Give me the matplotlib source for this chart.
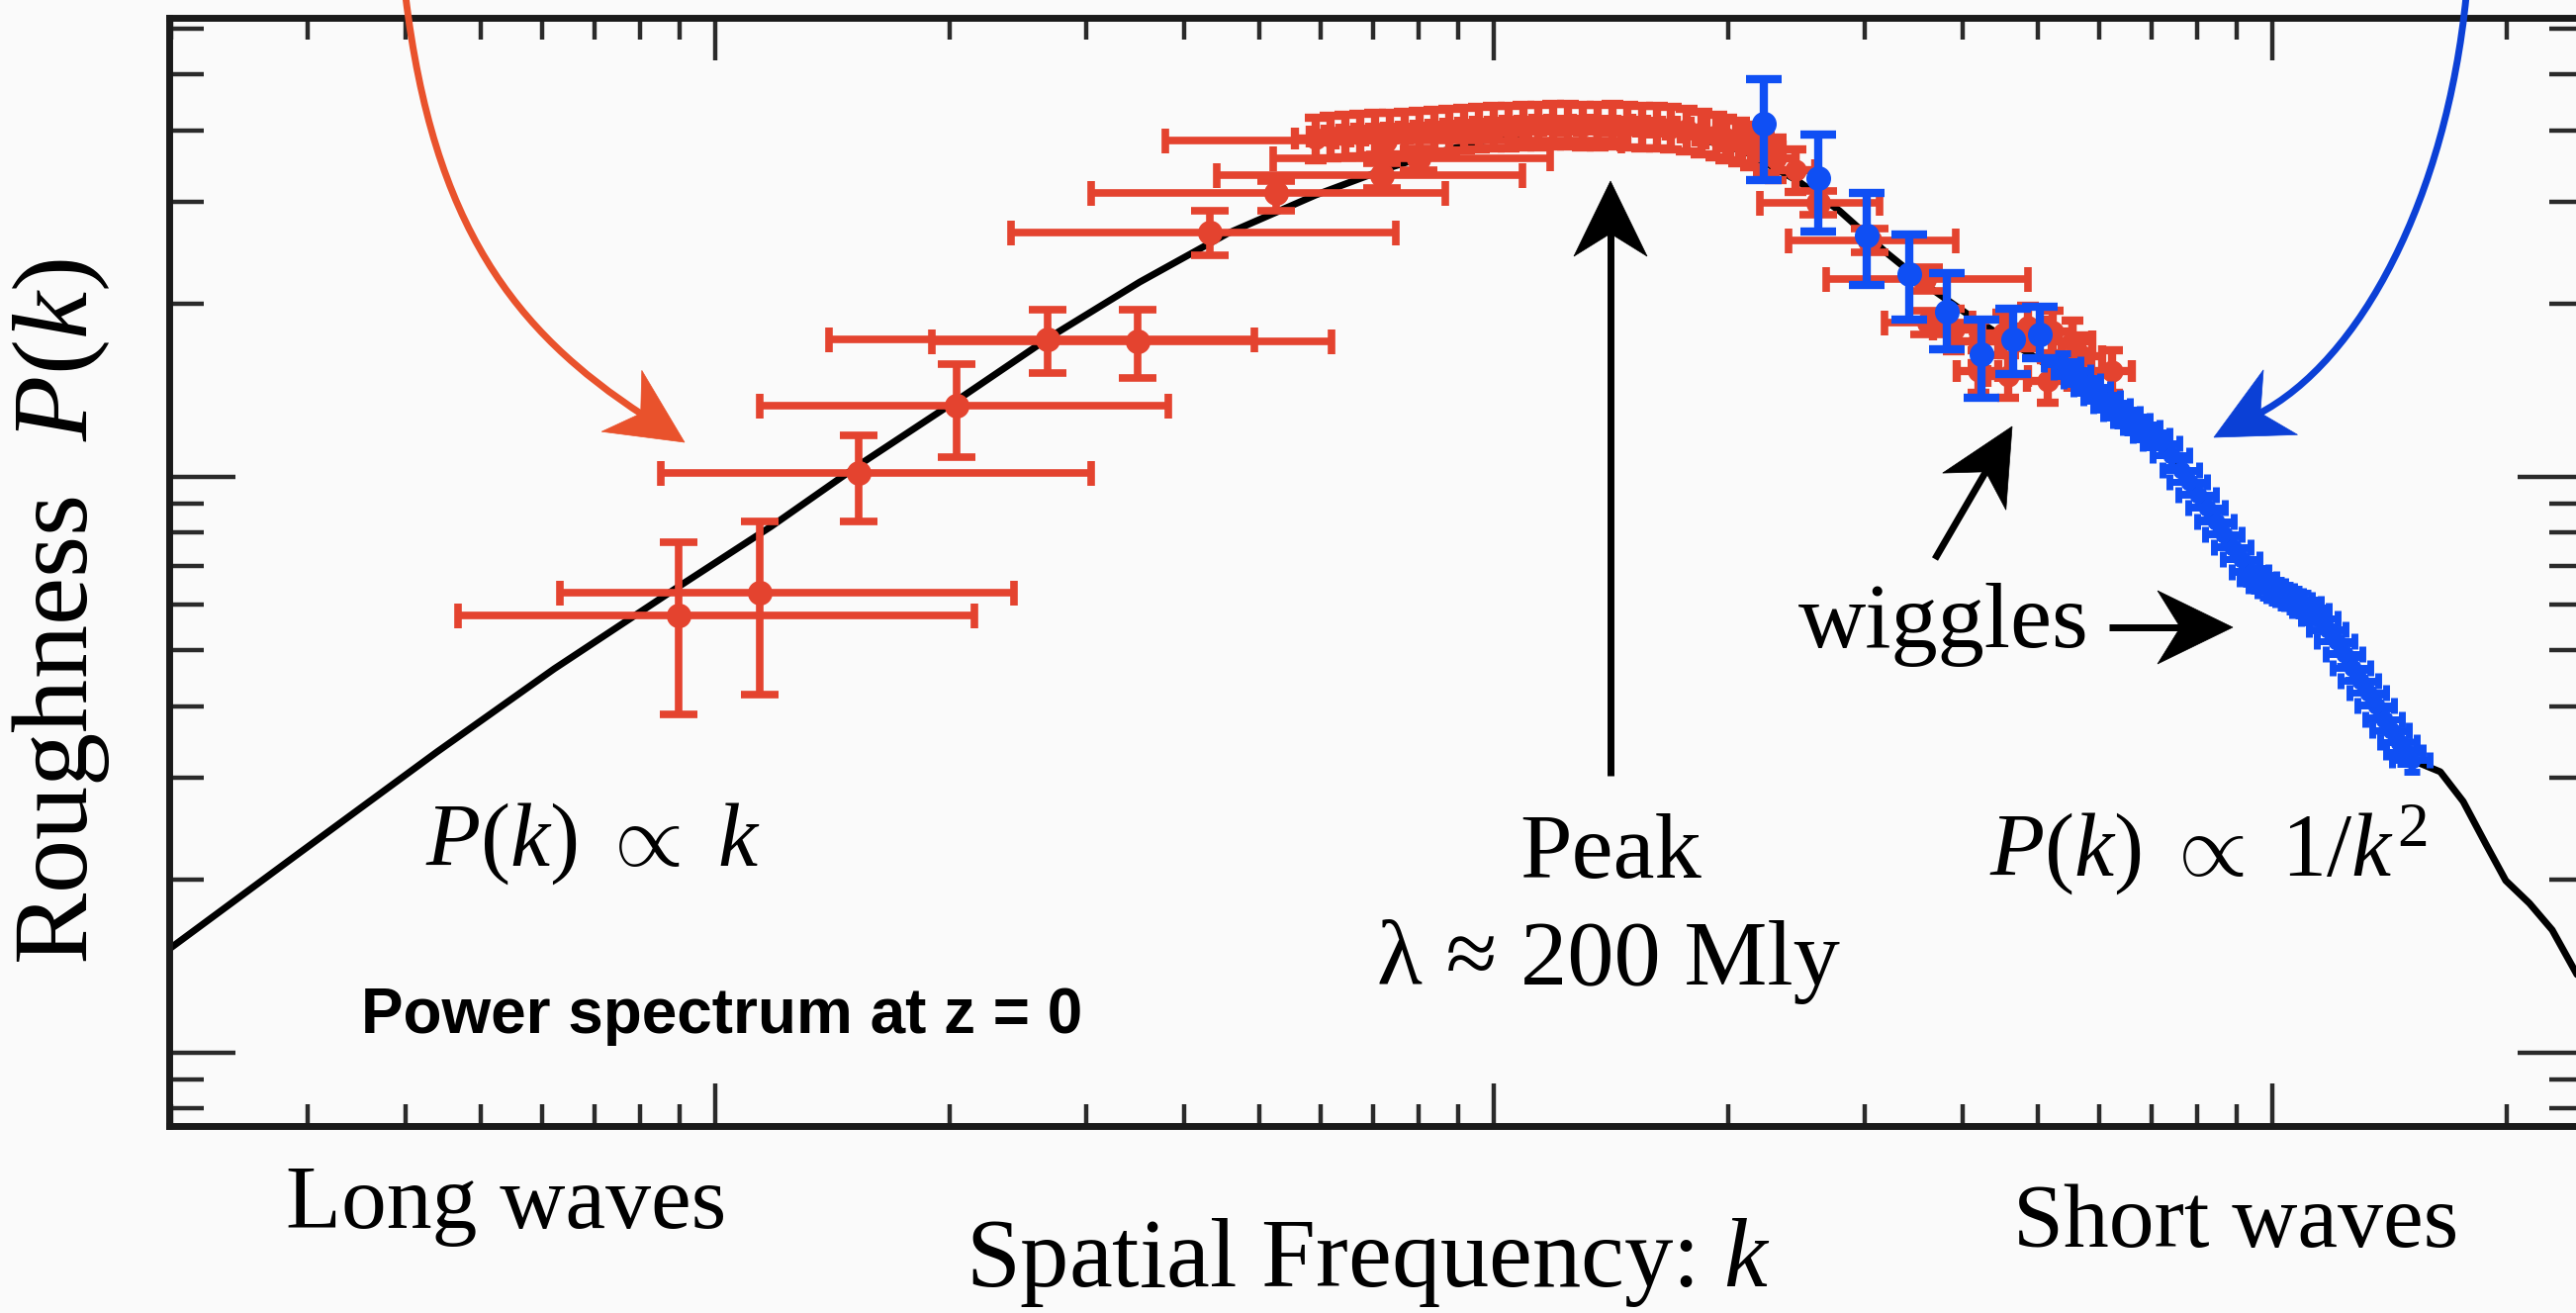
import numpy as np
import matplotlib.pyplot as plt
from matplotlib.path import Path
from matplotlib.patches import PathPatch, Polygon
from matplotlib.lines import Line2D
from matplotlib.ticker import LogLocator, NullFormatter

# ---- theory curve (k, P(k)) ----
curve_k = [1.99e-4, 2.90e-4, 4.39e-4, 6.21e-4, 8.97e-4, 1.18e-3, 1.53e-3, 2.04e-3,
           2.70e-3, 3.51e-3, 4.55e-3, 5.91e-3, 7.25e-3, 8.39e-3, 9.71e-3, 1.124e-2,
           1.30e-2, 1.51e-2, 1.74e-2, 2.10e-2, 2.46e-2, 2.78e-2, 3.19e-2, 3.62e-2,
           4.07e-2, 4.71e-2, 5.46e-2, 6.14e-2, 6.80e-2, 7.57e-2, 8.46e-2, 9.38e-2,
           0.1039, 0.1151, 0.1267, 0.1392, 0.1510, 0.1644, 0.1759, 0.1881, 0.1995,
           0.2140, 0.2289, 0.2455, 0.2535]
curve_P = [1515, 2206, 3329, 4642, 6447, 8204, 10490, 13560, 17540, 21800, 26470,
           30880, 34220, 36480, 38390, 39790, 40570, 40570, 39480, 36760, 32640,
           28990, 24550, 21380, 19130, 16860, 14850, 13510, 12380, 10490, 8371,
           6840, 6220, 5679, 4659, 3793, 3226, 3076, 2732, 2304, 1991, 1818, 1634,
           1378, 1273]

# ---- red points with wide k bins ----
red_k    = [8.97e-4, 1.14e-3, 1.53e-3, 2.04e-3, 2.67e-3, 3.49e-3, 4.32e-3, 5.25e-3,
            7.18e-3, 8.01e-3, 7.25e-3, 2.61e-2, 3.04e-2, 3.57e-2, 3.62e-2]
red_k_lo = [4.67e-4, 6.32e-4, 8.51e-4, 1.14e-3, 1.40e-3, 1.90e-3, 2.40e-3, 3.04e-3,
            4.41e-3, 5.21e-3, 3.79e-3, 2.20e-2, 2.39e-2, 2.67e-2, 3.18e-2]
red_k_hi = [2.15e-3, 2.42e-3, 3.04e-3, 3.82e-3, 4.93e-3, 6.19e-3, 7.48e-3, 8.66e-3,
            1.09e-2, 1.18e-2, 1.46e-2, 3.13e-2, 3.92e-2, 4.85e-2, 4.12e-2]
red_P    = [5740, 6295, 10160, 13300, 17340, 17190, 26560, 31120, 33420, 35750, 38390,
            29920, 25740, 22060, 18540]
red_P_lo = [3870, 4190, 8370, 10820, 15150, 14860, 24260, 28990, 31740, 34100, 36310,
            28530, 24550, 21040, 17680]
red_P_hi = [7700, 8370, 11800, 15700, 19500, 19500, 28990, 32650, 35070, 37190, 40560,
            31380, 27000, 23140, 19450]

# ---- red points with small errors (peak and beyond) ----
red_s_k = [5.91e-3, 6.45e-3, 7.04e-3, 7.69e-3, 8.39e-3, 9.16e-3, 1.00e-2, 1.092e-2,
           1.192e-2, 1.30e-2, 1.42e-2, 1.55e-2, 1.69e-2, 1.85e-2, 1.99e-2, 2.14e-2,
           2.30e-2, 2.44e-2,
           6.17e-3, 6.74e-3, 7.36e-3, 8.03e-3, 8.77e-3, 9.57e-3, 1.045e-2, 1.141e-2,
           1.245e-2, 1.359e-2, 1.484e-2, 1.621e-2, 1.769e-2, 1.932e-2, 2.065e-2, 2.22e-2,
           3.90e-2, 4.19e-2, 4.51e-2, 4.85e-2, 5.22e-2, 5.54e-2,
           5.70e-2, 4.19e-2, 4.58e-2, 5.15e-2, 6.23e-2]
red_s_P = [38700, 39170, 39480, 39630, 39940, 40250, 40570, 40740, 40900, 40740, 40900,
           40570, 40410, 39630, 38700, 37640, 35750, 34090,
           39000, 39320, 39480, 39790, 40100, 40410, 40570, 40740, 40900, 40740, 40740,
           40570, 40100, 39170, 38240, 36760,
           18030, 17200, 17760, 18250, 17890, 17200, 16200, 15270, 14970, 14680, 15270]
red_s_kerr = 0.06
red_s_Perr = 0.085

# ---- blue points with large P errors ----
blue_k    = [2.22e-2, 2.61e-2, 3.01e-2, 3.42e-2, 3.82e-2, 4.23e-2, 4.65e-2, 5.03e-2]
blue_P    = [41060, 33030, 26260, 22500, 19360, 16330, 17340, 17680]
blue_P_lo = [32770, 26680, 21540, 18760, 16660, 13730, 15090, 16080]
blue_P_hi = [49060, 39320, 31120, 26360, 22590, 18760, 19600, 19750]

# ---- dense blue points ----
blue_s_k = [0.05378, 0.05702, 0.06046, 0.06410, 0.06796, 0.07205, 0.07639, 0.08027,
            0.08463, 0.08896, 0.09378, 0.09854, 0.1039, 0.1095, 0.1151, 0.1209,
            0.1267, 0.1328, 0.1392, 0.1454, 0.1510,
            0.05538, 0.05870, 0.06226, 0.06600, 0.06998, 0.07420, 0.07819, 0.08242,
            0.08664, 0.09133, 0.09598, 0.1012, 0.1067, 0.1121, 0.1178, 0.1238,
            0.1297, 0.1360, 0.1421, 0.1480]
blue_s_P = [15700, 14680, 13730, 12880, 12190, 11440, 10280, 9313, 8371, 7551, 6840,
            6471, 6220, 6026, 5679, 5186, 4659, 4221, 3793, 3463, 3226,
            15210, 14220, 13300, 12530, 11810, 10910, 9804, 8845, 7951, 7200, 6653,
            6345, 6123, 5861, 5438, 4925, 4426, 4010, 3632, 3329]
blue_s_kerr = 0.055
blue_s_Perr = 0.045

W, H, DPI = 2604, 1327, 100
BG = '#fafafa'
RED = '#e4432f'
ORANGE = '#e9522c'
BLUE = '#0f4ff4'
DARKBLUE = '#0b40d6'

plt.rcParams['font.family'] = 'Liberation Serif'
plt.rcParams['mathtext.fontset'] = 'custom'
plt.rcParams['mathtext.rm'] = 'Liberation Serif'
plt.rcParams['mathtext.it'] = 'Liberation Serif:italic'


def to_fig(x, y):
    return x / W, 1 - y / H


fig = plt.figure(figsize=(W / DPI, H / DPI), dpi=DPI, facecolor=BG)
left, right, top, bottom = 171, 2612, 18, 1138
ax = fig.add_axes([left / W, 1 - bottom / H, (right - left) / W, (bottom - top) / H],
                  facecolor=BG)
ax.set_xscale('log')
ax.set_yscale('log')
ax.set_xlim(1.989e-4, 0.2514)
ax.set_ylim(746.3, 62700)

# theory curve
ax.plot(curve_k, curve_P, color='black', lw=5, zorder=2, solid_capstyle='round')

# red wide-bin points
rk = np.array(red_k); rP = np.array(red_P)
ax.errorbar(rk, rP, xerr=[rk - np.array(red_k_lo), np.array(red_k_hi) - rk],
            fmt='none', ecolor=RED, elinewidth=5.5, capsize=9, capthick=5.5, zorder=3)
ax.errorbar(rk, rP, yerr=[rP - np.array(red_P_lo), np.array(red_P_hi) - rP],
            fmt='o', color=RED, ms=17, elinewidth=5.5, capsize=14, capthick=5.5, zorder=3)

# red small-error points
sk = np.array(red_s_k); sP = np.array(red_s_P)
ax.errorbar(sk, sP, xerr=[sk * red_s_kerr, sk * red_s_kerr],
            yerr=[sP * red_s_Perr, sP * red_s_Perr],
            fmt='o', color=RED, ms=15, elinewidth=6, capsize=8, capthick=6, zorder=3)

# blue dense points
bk = np.array(blue_s_k); bP = np.array(blue_s_P)
ax.errorbar(bk, bP, xerr=[bk * blue_s_kerr, bk * blue_s_kerr],
            yerr=[bP * blue_s_Perr, bP * blue_s_Perr],
            fmt='o', color=BLUE, ms=12, elinewidth=5, capsize=6, capthick=5, zorder=4)

# blue big points
bk2 = np.array(blue_k); bP2 = np.array(blue_P)
ax.errorbar(bk2, bP2, yerr=[bP2 - np.array(blue_P_lo), np.array(blue_P_hi) - bP2],
            fmt='o', color=BLUE, ms=17, elinewidth=6, capsize=13, capthick=6, zorder=5)

# axes styling
ax.xaxis.set_major_locator(LogLocator(base=10, numticks=50))
ax.xaxis.set_minor_locator(LogLocator(base=10, subs=np.arange(2, 10), numticks=50))
ax.yaxis.set_major_locator(LogLocator(base=10, numticks=50))
ax.yaxis.set_minor_locator(LogLocator(base=10, subs=np.arange(2, 10), numticks=50))
for a in (ax.xaxis, ax.yaxis):
    a.set_major_formatter(NullFormatter())
    a.set_minor_formatter(NullFormatter())
ax.tick_params(which='both', direction='in', top=True, right=True, color='#2a2a2a', width=3.2)
ax.tick_params(axis='x', which='major', length=31)
ax.tick_params(axis='x', which='minor', length=16)
ax.tick_params(axis='y', which='major', length=48)
ax.tick_params(axis='y', which='minor', length=25)
for s in ax.spines.values():
    s.set_linewidth(5)
    s.set_color('#1a1a1a')


# ---- arrows (drawn in image pixel space) ----
def arrow_head(tip, direction, color, L=76, hw=37, notch=23):
    d = np.array(direction, float)
    d /= np.hypot(*d)
    n = np.array([-d[1], d[0]])
    tip = np.array(tip, float)
    base = tip - L * d
    pts = [tip, base + hw * n, tip - (L - notch) * d, base - hw * n]
    fig.add_artist(Polygon([to_fig(*p) for p in pts], closed=True, transform=fig.transFigure,
                           facecolor=color, edgecolor=color, lw=0.5, zorder=10))
    return tip - (L - notch - 4) * d


def straight_arrow(start, tip, color='black'):
    neck = arrow_head(tip, np.subtract(tip, start), color)
    (x0, y0), (x1, y1) = to_fig(*start), to_fig(*neck)
    fig.add_artist(Line2D([x0, x1], [y0, y1], transform=fig.transFigure, color=color,
                          lw=5, solid_capstyle='butt', zorder=10))


def curved_arrow(p0, p1, p2, tip, direction, color):
    neck = arrow_head(tip, direction, color)
    verts = [to_fig(*p) for p in (p0, p1, p2, neck)]
    path = Path(verts, [Path.MOVETO, Path.CURVE4, Path.CURVE4, Path.CURVE4])
    fig.add_artist(PathPatch(path, transform=fig.transFigure, fill=False, edgecolor=color,
                             lw=5, capstyle='butt', zorder=10))


straight_arrow((1628, 784), (1628, 183))
straight_arrow((1956, 565), (2034, 431))
straight_arrow((2132, 634), (2257, 634))
curved_arrow((410, -4), (438, 228), (520, 335), (692, 447), (0.833, 0.547), ORANGE)
curved_arrow((2493, -4), (2473, 198), (2387, 365), (2238, 442), (-0.885, 0.466), DARKBLUE)


# ---- text ----
def label(x, y, s, **kw):
    fig.text(*to_fig(x, y), s, **kw)


label(430, 875, r'$P(k)\ \propto\ k$', fontsize=65, ha='left', va='baseline')
label(2011, 885, r'$P(k)\ \propto\ 1/k^2$', fontsize=65, ha='left', va='baseline')
label(1628, 887, 'Peak', fontsize=68, ha='center', va='baseline')
label(1626, 995, 'λ ≈ 200 Mly', fontsize=68, ha='center', va='baseline')
label(1818, 654, 'wiggles', fontsize=68, ha='left', va='baseline')
label(512, 1241, 'Long waves', fontsize=66, ha='center', va='baseline')
label(2260, 1260, 'Short waves', fontsize=66, ha='center', va='baseline')
label(1383, 1300, r'Spatial Frequency: $k$', fontsize=71, ha='center', va='baseline')
label(62, 618, r'Roughness  $P(k)$', fontsize=78, ha='center', va='center', rotation=90)
label(365, 1044, 'Power spectrum at z = 0', fontsize=46, fontfamily='Liberation Sans',
      fontweight='bold', ha='left', va='baseline')

fig.savefig('out.png', dpi=DPI, facecolor=BG)
